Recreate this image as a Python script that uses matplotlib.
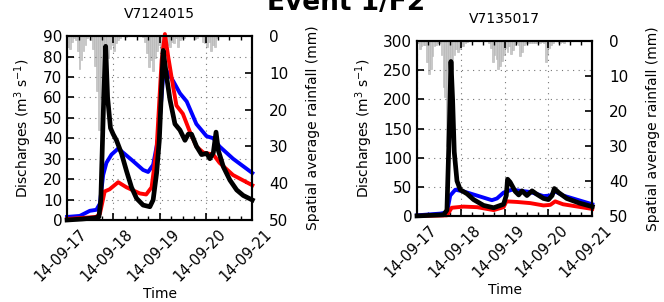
import numpy as np
import matplotlib
matplotlib.use("Agg")
import matplotlib.pyplot as plt
import matplotlib.transforms as mtransforms
from matplotlib.ticker import MultipleLocator

# --- data (hours since 2014-09-17 00:00) ---
day_labels = ["14-09-17", "14-09-18", "14-09-19", "14-09-20", "14-09-21"]

# station V7124015
s1_name = "V7124015"
s1_black_h = [0, 8, 14, 16.5, 17.5, 19, 20, 21, 22.5, 23.9, 25.6, 28.2, 30.8, 33.4, 36, 39.4, 42.9,
              44.6, 46.4, 47.8, 49.8, 51.6, 53.3, 55.9, 58.5, 61.1, 62.8, 64.5, 67.1, 69.7, 72.3,
              74, 75.8, 77.2, 78.4, 81, 84.4, 87.9, 91.3, 96]
s1_black_q = [0, 0.5, 1, 1.5, 10, 60, 85, 60, 45, 42, 39, 32.6, 24, 16, 10.6, 7.3, 6.5,
              9.8, 23, 39, 83, 70, 59, 47, 44, 39, 42, 42, 36, 32, 32.6,
              30, 33, 43, 34, 26, 19.5, 14.7, 12, 9.8]
s1_blue_h = [0, 6.6, 11.8, 15.2, 17, 18.7, 20.4, 23, 26.5, 29, 34, 39.4, 42, 44.6, 47.2, 49.8,
             51.6, 55, 58.5, 62, 67, 72.3, 75.8, 79, 86, 96]
s1_blue_q = [1.5, 2, 4.5, 5, 8, 22, 28, 32, 35, 33, 29, 24.5, 23.5, 27, 40, 70,
             73, 68, 62, 58, 47, 41, 40, 36, 30, 23]
s1_red_h = [0, 15, 17, 19.5, 22, 26.5, 30.8, 37.7, 41, 43.8, 46.4, 49, 50.7, 52.4, 55, 56.7,
            60, 63.7, 67, 70.6, 75.8, 79, 86, 96]
s1_red_q = [0.5, 1.5, 3, 14, 15, 18.5, 16, 13, 12.5, 16, 35, 78, 91, 80, 65, 56,
            52, 43, 36, 33, 32, 28, 22, 17]
s1_rain = [3, 3.5, 1.5, 0.5, 1, 4, 9, 6.5, 4, 2.5, 0.5, 0, 1, 3.5, 8, 15,
           25.5, 17, 12, 9, 5, 6, 3.5, 2.5, 4, 2, 1, 0.5, 0, 0, 0.3, 0,
           0, 0, 0, 0, 0, 0, 0, 0.3, 1.5, 4.5, 8.5, 6.5, 9.5, 6, 4, 2.5,
           3.5, 1.5, 2, 1, 2.5, 3, 1.5, 2, 0.5, 3, 1, 0.5, 0.5, 0, 0, 0,
           0, 0, 0.8, 0.5, 0, 0, 1.5, 2, 3, 1.5, 4, 2.5, 3, 0.5, 0, 0,
           0, 0, 0, 0, 0, 0, 0, 0, 0, 0, 0, 0, 0, 0, 0, 0]

# station V7135017
s2_name = "V7135017"
s2_black_h = [0, 14.6, 16.4, 17.7, 18.6, 19.5, 20.4, 21.9, 23.7, 27.4, 31, 36.5, 42, 44.7, 47.4,
              48.9, 49.6, 51, 53.8, 55.7, 57.5, 60.2, 63, 65.7, 69.3, 72, 74, 75.2, 77.6,
              82, 89, 96]
s2_black_q = [0, 2, 10, 150, 265, 200, 110, 60, 45, 38, 28, 18, 14, 17, 20,
              35, 63, 58, 42, 36, 43, 35, 43, 37, 30, 28, 35, 47, 40,
              30, 22, 16]
s2_blue_h = [0, 12.8, 16.4, 18.2, 21, 25.5, 32.8, 41, 43.8, 47.4, 52, 62, 69.3, 73, 75.7, 80, 96]
s2_blue_q = [1, 4, 6, 35, 45, 42, 35, 27, 30, 40, 45, 41, 34, 35, 42, 35, 20]
s2_red_h = [0, 16.4, 19, 25.5, 33, 42, 47.4, 49, 54.7, 62, 69.3, 73, 75.7, 80, 96]
s2_red_q = [0, 1, 14, 16, 15, 10, 15, 25, 24, 22, 18, 19, 25, 20, 12]
s2_rain = [0.5, 2.4, 1.5, 1, 1, 6, 9.5, 8, 4.3, 1.5, 1, 0.5, 0.5, 4, 13, 16,
           30, 22, 15.7, 8, 4, 2.4, 3, 2.4, 1.4, 1.4, 0.5, 0.3, 0, 0, 0, 0,
           0, 0, 0, 0, 0, 0, 0, 0.5, 2, 6, 4, 5, 8, 7, 5.7, 4,
           2, 3, 1.5, 3.8, 2.5, 1, 0.5, 1, 4.3, 3, 1, 0.5, 0.5, 0.5, 0.5, 0.5,
           0.5, 0.5, 0.3, 0.5, 0.3, 0.5, 6, 3.8, 2, 1, 0.5, 0, 0, 0.5,
           0.5, 0.3, 0.5, 0, 0, 0, 0, 0, 0, 0, 0, 0, 0, 0, 0, 0]

plt.rcParams['font.family'] = ['DejaVu Sans']


def panel(fig, rect, name, qmax, qstep, black, blue, red, rain):
    ax = fig.add_axes(rect)
    ax2 = ax.twinx()
    hours = np.arange(len(rain)) + 0.5
    ax2.bar(hours, rain, width=0.9, color='#c8c8c8', edgecolor='#b4b4b4', linewidth=0.4)
    ax2.set_ylim(50, 0)
    ax2.set_yticks(range(0, 51, 10))
    ax2.set_ylabel('Spatial average rainfall (mm)', fontsize=10, labelpad=13)
    ax2.tick_params(axis='y', direction='in', labelsize=11, length=5, width=1.2, pad=12)

    ax.set_zorder(ax2.get_zorder() + 1)
    ax.patch.set_visible(False)
    ax.plot(blue[0], blue[1], color='#0000ff', lw=2.8, clip_on=False)
    ax.plot(red[0], red[1], color='#ff0000', lw=2.8, clip_on=False)
    ax.plot(black[0], black[1], color='black', lw=3.4, clip_on=False)

    ax.set_xlim(0, 96)
    ax.set_ylim(0, qmax)
    ax.set_yticks(np.arange(0, qmax + 1, qstep))
    ax.set_xticks([0, 24, 48, 72, 96])
    ax.set_xticklabels(day_labels, rotation=45, ha='right', rotation_mode='anchor')
    ax.xaxis.set_minor_locator(MultipleLocator(6))
    ax.tick_params(axis='both', which='major', direction='in', labelsize=11, length=5, width=1.2,
                   top=True)
    ax.tick_params(axis='x', which='major', labelsize=10.5)
    shift = mtransforms.ScaledTranslation(12 / 100, -2 / 100, fig.dpi_scale_trans)
    for lab in ax.get_xticklabels():
        lab.set_transform(lab.get_transform() + shift)
    ax.tick_params(axis='x', which='minor', direction='in', length=3, width=1, top=True)
    ax.grid(True, which='major', linestyle=(0, (1, 4)), color='#777777', lw=0.8)
    ax.set_xlabel('Time', fontsize=10, labelpad=2)
    ax.set_ylabel('Discharges (m$^3$ s$^{-1}$)', fontsize=10, labelpad=6)
    ax.set_title(name, fontsize=10, pad=13)
    for sp in list(ax.spines.values()) + list(ax2.spines.values()):
        sp.set_linewidth(1.5)
    return ax


fig = plt.figure(figsize=(6.64, 3.02), dpi=100)
panel(fig, [0.101, 0.2715, 0.279, 0.609], s1_name, 90, 10,
      (s1_black_h, s1_black_q), (s1_blue_h, s1_blue_q), (s1_red_h, s1_red_q), s1_rain)
panel(fig, [0.628, 0.285, 0.264, 0.579], s2_name, 300, 50,
      (s2_black_h, s2_black_q), (s2_blue_h, s2_blue_q), (s2_red_h, s2_red_q), s2_rain)

fig.text(0.521, 1 - 10 / 302, 'Event 1/F2', fontsize=19, fontweight='bold',
         ha='center', va='baseline')

fig.savefig('out.png', dpi=100)
